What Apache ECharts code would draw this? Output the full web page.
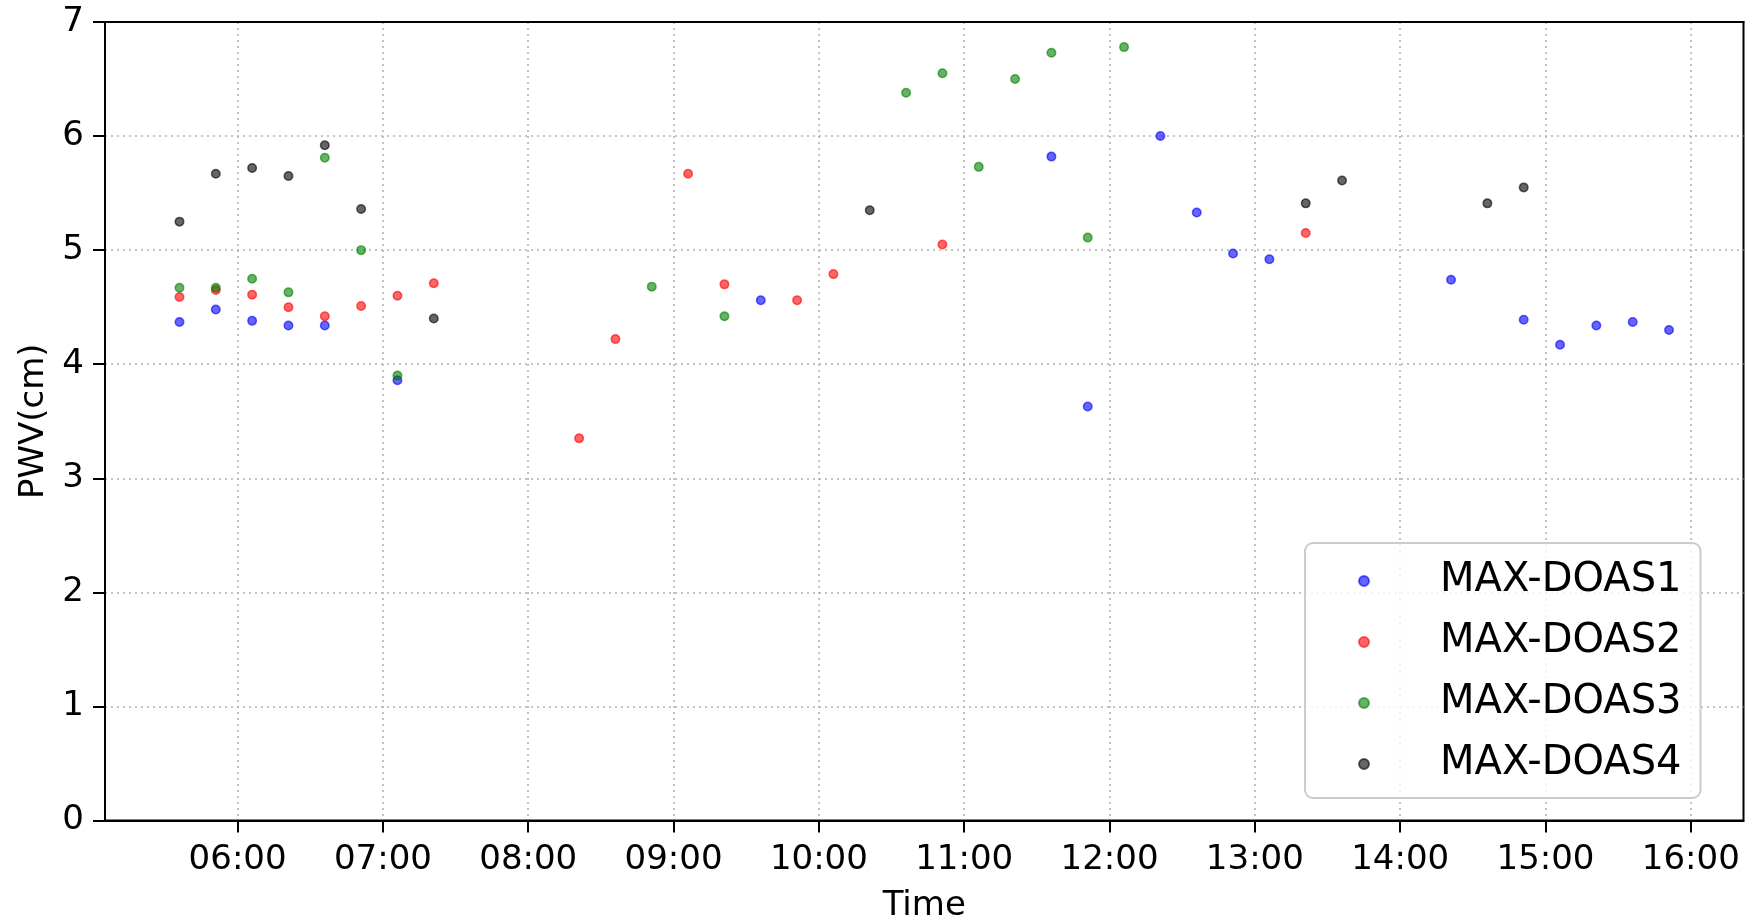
<!DOCTYPE html>
<html>
<head>
<meta charset="utf-8">
<script src="https://cdn.jsdelivr.net/npm/echarts@6/dist/echarts.min.js"></script>
<style>
html,body{margin:0;padding:0;background:#fff;}
#chart{width:1749px;height:919px;}
</style>
</head>
<body>
<div id="chart"></div>
<script>
// ---- data ----
const seriesNames = ['MAX-DOAS1', 'MAX-DOAS2', 'MAX-DOAS3', 'MAX-DOAS4'];
const xTickLabels = ['06:00','07:00','08:00','09:00','10:00','11:00','12:00','13:00','14:00','15:00','16:00'];
const yTickValues = [0, 1, 2, 3, 4, 5, 6, 7];

const doas1Times  = ['05:36','05:51','06:06','06:21','06:36','07:06','09:36','11:36','11:51','12:21','12:36','12:51','13:06','14:21','14:51','15:06','15:21','15:36','15:51'];
const doas1Values = [4.37, 4.48, 4.38, 4.34, 4.34, 3.86, 4.56, 5.82, 3.63, 6.00, 5.33, 4.97, 4.92, 4.74, 4.39, 4.17, 4.34, 4.37, 4.30];

const doas2Times  = ['05:36','05:51','06:06','06:21','06:36','06:51','07:06','07:21','08:21','08:36','09:06','09:21','09:51','10:06','10:51','13:21'];
const doas2Values = [4.59, 4.65, 4.61, 4.50, 4.42, 4.51, 4.60, 4.71, 3.35, 4.22, 5.67, 4.70, 4.56, 4.79, 5.05, 5.15];

const doas3Times  = ['05:36','05:51','06:06','06:21','06:36','06:51','07:06','08:51','09:21','10:36','10:51','11:06','11:21','11:36','11:51','12:06'];
const doas3Values = [4.67, 4.67, 4.75, 4.63, 5.81, 5.00, 3.90, 4.68, 4.42, 6.38, 6.55, 5.73, 6.50, 6.73, 5.11, 6.78];

const doas4Times  = ['05:36','05:51','06:06','06:21','06:36','06:51','07:21','10:21','13:21','13:36','14:36','14:51'];
const doas4Values = [5.25, 5.67, 5.72, 5.65, 5.92, 5.36, 4.40, 5.35, 5.41, 5.61, 5.41, 5.55];

const seriesColors = ['#0000ff', '#ff0000', '#008000', '#000000'];

// ---- helpers ----
function toHours(s) { const p = s.split(':'); return Number(p[0]) + Number(p[1]) / 60; }
function pairs(times, values) { return times.map((t, i) => [toHours(t), values[i]]); }

const allSeries = [
  pairs(doas1Times, doas1Values),
  pairs(doas2Times, doas2Values),
  pairs(doas3Times, doas3Values),
  pairs(doas4Times, doas4Values)
];
const xTickValues = xTickLabels.map(toHours);

// matplotlib-like 5% margins on x
let xs = [];
allSeries.forEach(s => s.forEach(p => xs.push(p[0])));
const dMin = Math.min.apply(null, xs), dMax = Math.max.apply(null, xs);
const pad = 0.05 * (dMax - dMin);
const xMin = dMin - pad, xMax = dMax + pad;

const FONT = 'DejaVu Sans';
const gridLineStyle = { color: '#b0b0b0', width: 1.5, type: [2, 4] };

const chart = echarts.init(document.getElementById('chart'), null, { renderer: 'canvas' });
chart.setOption({
  animation: false,
  backgroundColor: '#ffffff',
  textStyle: { fontFamily: FONT },
  grid: {
    left: 105, right: 5.5, top: 22, bottom: 98.5,
    show: true, borderColor: '#000', borderWidth: 2,
    containLabel: false, outerBoundsMode: 'none'
  },
  legend: {
    orient: 'vertical',
    left: 1305, top: 543,
    padding: [18, 19, 14, 53],
    itemGap: 21,
    itemWidth: 10, itemHeight: 10,
    icon: 'circle',
    backgroundColor: 'rgba(255,255,255,0.8)',
    borderColor: '#cccccc', borderWidth: 2, borderRadius: 8,
    textStyle: { fontSize: 40, color: '#000', fontFamily: FONT, padding: [0, 0, 0, 66] },
    data: seriesNames
  },
  xAxis: [{
    type: 'value', min: xMin, max: xMax,
    name: 'Time', nameLocation: 'middle', nameGap: 69,
    nameTextStyle: { fontSize: 34, color: '#000', fontFamily: FONT },
    axisLine: { show: true, onZero: false, lineStyle: { color: '#000', width: 2 } },
    axisTick: { show: true, customValues: xTickValues, length: 12, lineStyle: { color: '#000', width: 2 } },
    axisLabel: {
      customValues: xTickValues, margin: 23, fontSize: 34, color: '#000', fontFamily: FONT,
      formatter: function (v) {
        let best = 0;
        xTickValues.forEach((t, i) => { if (Math.abs(t - v) < Math.abs(xTickValues[best] - v)) best = i; });
        return xTickLabels[best];
      }
    },
    splitLine: { show: true, lineStyle: gridLineStyle }
  }, {
    type: 'value', position: 'top', min: xMin, max: xMax,
    axisLine: { show: true, onZero: false, lineStyle: { color: '#000', width: 2 } },
    axisTick: { show: false }, axisLabel: { show: false }, splitLine: { show: false }
  }],
  yAxis: {
    type: 'value', min: yTickValues[0], max: yTickValues[yTickValues.length - 1], interval: 1,
    name: 'PWV(cm)', nameLocation: 'middle', nameGap: 51, nameRotate: 90,
    nameTextStyle: { fontSize: 34, color: '#000', fontFamily: FONT },
    axisLine: { show: true, lineStyle: { color: '#000', width: 2 } },
    axisTick: { show: true, length: 12, lineStyle: { color: '#000', width: 2 } },
    axisLabel: { margin: 21, fontSize: 34, color: '#000', fontFamily: FONT },
    splitLine: { show: true, showMaxLine: false, showMinLine: false, lineStyle: gridLineStyle }
  },
  series: allSeries.map((data, i) => ({
    name: seriesNames[i],
    type: 'scatter',
    xAxisIndex: 0,
    data: data,
    symbol: 'circle',
    symbolSize: 8.5,
    itemStyle: { color: seriesColors[i], opacity: 0.6, borderColor: seriesColors[i], borderWidth: 1.5 },
    emphasis: { disabled: true }
  }))
});
</script>
</body>
</html>
